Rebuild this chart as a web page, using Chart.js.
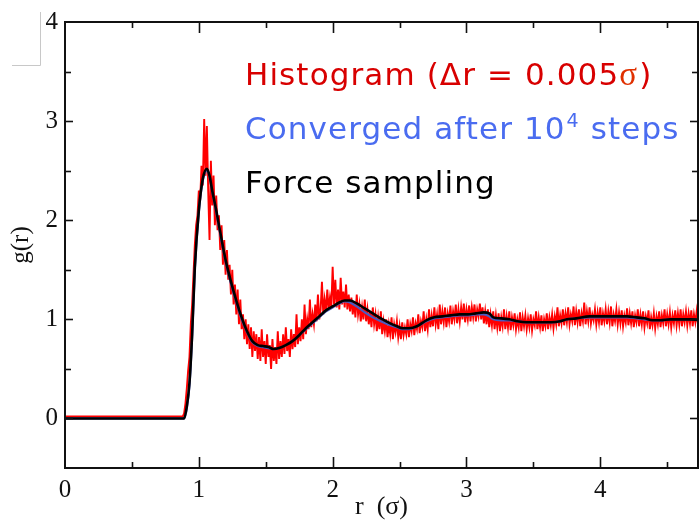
<!DOCTYPE html>
<html><head><meta charset="utf-8">
<script src="https://cdn.jsdelivr.net/npm/chart.js@4/dist/chart.umd.min.js"></script>
<style>html,body{margin:0;padding:0;background:#fff;}#wrap{position:relative;width:700px;height:523px;}</style>
</head><body><div id="wrap"><canvas id="c" width="700" height="523"></canvas></div>
<script>
// ---- data ----
const xTickLabels = ['0','1','2','3','4'];
const yTickLabels = ['0','1','2','3','4'];

// Histogram, bin width 0.01 starting at r = 0.88 (flat 0 before that)
const histLeadR = [0.0];
const histLeadG = [0.02];
const histBinStart = 0.88;
const histBinWidth = 0.01;
const histogramG = [
0.02,0.05,0.15,0.30,0.48,0.62,0.95,1.15,1.45,1.75,
1.95,2.05,2.30,2.20,2.55,2.35,3.02,2.45,2.95,2.30,
1.80,2.60,2.15,2.45,1.95,2.25,1.90,2.05,1.70,1.95,
1.55,1.80,1.45,1.70,1.40,1.55,1.25,1.50,1.15,1.35,
1.05,1.30,0.95,1.20,0.90,1.05,0.80,1.00,0.75,0.95,
0.70,0.92,0.62,0.88,0.68,0.85,0.60,0.82,0.58,0.90,
0.62,0.78,0.55,0.85,0.62,0.74,0.50,0.80,0.58,0.72,
0.55,0.88,0.60,0.78,0.62,0.85,0.65,0.92,0.68,0.80,
0.62,0.90,0.70,0.85,0.72,1.05,0.75,0.92,0.78,1.00,
0.80,1.15,0.85,1.00,0.90,1.20,0.92,1.05,0.95,1.15,
0.98,1.25,1.00,1.10,1.38,1.05,1.20,1.08,1.30,1.10,
1.22,1.12,1.53,1.15,1.40,1.12,1.30,1.10,1.42,1.15,
1.28,1.12,1.35,1.10,1.25,1.08,1.22,1.05,1.18,1.02,
1.25,1.05,1.15,0.98,1.12,1.00,1.20,0.98,1.10,0.95,
1.08,0.92,1.12,0.95,1.05,0.88,1.02,0.90,1.08,0.85,
0.98,0.88,1.00,0.82,0.95,0.85,1.02,0.80,0.95,0.87,
0.98,0.82,0.93,0.80,0.97,0.84,0.92,0.85,1.00,0.82,
0.95,0.88,1.02,0.84,0.96,0.90,1.05,0.86,0.98,0.92,
1.08,0.88,1.00,0.90,1.10,0.92,1.04,0.93,1.12,0.95,
1.05,0.90,1.15,0.95,1.08,0.97,1.12,0.92,1.06,0.98,
1.14,0.95,1.08,1.00,1.15,0.96,1.10,0.98,1.12,1.00,
1.16,0.97,1.10,1.00,1.14,0.98,1.12,1.02,1.15,0.98,
1.10,1.03,1.16,1.00,1.12,0.96,1.08,0.95,1.10,0.92,
1.05,0.94,1.08,0.90,1.04,0.92,1.06,0.88,1.02,0.93,
1.10,0.90,1.03,0.92,1.08,0.89,1.02,0.94,1.06,0.90,
1.00,0.92,1.07,0.88,1.02,0.93,1.04,0.90,1.01,0.92,
1.05,0.89,1.00,0.94,1.08,0.90,1.02,0.92,1.04,0.88,
1.00,0.93,1.06,0.90,1.02,0.94,1.05,0.91,1.03,0.95,
1.12,0.93,1.04,0.96,1.10,0.94,1.06,0.97,1.12,0.95,
1.05,0.98,1.13,0.94,1.08,0.97,1.10,0.93,1.06,0.98,
1.17,0.95,1.08,0.98,1.12,0.96,1.05,0.99,1.10,0.95,
1.07,0.97,1.12,0.94,1.06,0.98,1.10,0.95,1.08,0.97,
1.13,0.93,1.05,0.98,1.10,0.95,1.07,0.96,1.09,0.93,
1.04,0.97,1.11,0.94,1.06,0.96,1.08,0.92,1.04,0.97,
1.10,0.93,1.05,0.95,1.08,0.92,1.03,0.96,1.09,0.90,
1.02,0.94,1.06,0.91,1.03,0.95,1.08,0.92,1.04,0.96,
1.10,0.93,1.05,0.95,1.07,0.92,1.04,0.96,1.09,0.94,
1.06,0.95,1.10,0.93,1.05,0.97,1.08,0.94,1.06,0.96,
1.09,0.93,1.05,0.97,1.08,0.95
];

// Force sampling (black) and converged (blue) curves
const curveR = [0,0.89,0.91,0.93,0.95,0.97,1.0,1.03,1.06,1.08,
1.10,1.13,1.16,1.2,1.24,1.28,1.32,1.36,1.40,1.44,
1.48,1.52,1.56,1.60,1.65,1.70,1.75,1.80,1.85,1.90,
1.95,2.0,2.05,2.09,2.13,2.18,2.24,2.30,2.36,2.43,
2.48,2.52,2.57,2.63,2.70,2.76,2.82,2.88,2.95,3.01,
3.07,3.13,3.17,3.20,3.26,3.32,3.38,3.45,3.51,3.57,
3.63,3.70,3.75,3.82,3.92,4.02,4.12,4.20,4.27,4.33,
4.39,4.45,4.52,4.61,4.67,4.73];
const forceG = [0,0,0.12,0.36,0.85,1.52,2.1,2.42,2.52,2.45,
2.3,2.1,1.88,1.6,1.38,1.19,1.02,0.88,0.78,0.74,
0.73,0.72,0.70,0.71,0.74,0.78,0.84,0.91,0.97,1.03,
1.09,1.13,1.17,1.19,1.19,1.16,1.11,1.06,1.01,0.96,
0.93,0.91,0.91,0.93,0.99,1.02,1.03,1.04,1.05,1.05,
1.06,1.07,1.06,1.02,1.01,1.0,0.98,0.97,0.97,0.97,
0.97,0.98,1.0,1.01,1.03,1.03,1.03,1.03,1.02,1.01,
0.99,0.99,1.0,1.0,1.0,0.995];
const convergedG = [0,0,0.1,0.33,0.82,1.5,2.08,2.4,2.5,2.44,
2.29,2.08,1.86,1.58,1.36,1.17,1.0,0.87,0.77,0.73,
0.72,0.71,0.70,0.71,0.74,0.78,0.84,0.90,0.96,1.02,
1.08,1.12,1.16,1.18,1.17,1.13,1.07,1.02,0.98,0.94,
0.92,0.90,0.90,0.93,0.98,1.01,1.02,1.03,1.04,1.04,
1.05,1.05,1.03,1.0,0.99,0.99,0.98,0.97,0.97,0.97,
0.97,0.98,1.0,1.01,1.02,1.02,1.02,1.02,1.01,1.0,
0.99,0.99,1.0,1.0,1.0,0.995];

// ---- build datasets ----
const histData = histLeadR.map((r,i)=>({x:r,y:histLeadG[i]}))
  .concat(histogramG.map((g,i)=>({x:+(histBinStart+i*histBinWidth).toFixed(3),y:g})));
const forceData = curveR.map((r,i)=>({x:r,y:forceG[i]}));
const convData = curveR.map((r,i)=>({x:r,y:convergedG[i]}));

const framePlugin = {
  id:'frame',
  afterDatasetsDraw(chart){
    const {ctx, chartArea:a, scales:{x,y}} = chart;
    ctx.save();
    ctx.strokeStyle='#111';
    ctx.lineWidth=2;
    ctx.strokeRect(a.left, a.top, a.right-a.left, a.bottom-a.top);
    ctx.lineWidth=1.6;
    const ln=(x1,y1,x2,y2)=>{ctx.beginPath();ctx.moveTo(x1,y1);ctx.lineTo(x2,y2);ctx.stroke();};
    x.ticks.forEach(t=>{
      const px=Math.round(x.getPixelForValue(t.value))+0.5;
      if(px<=a.left+1||px>=a.right-1) return;
      const L=Number.isInteger(t.value)?11:6;
      ln(px,a.bottom,px,a.bottom-L); ln(px,a.top,px,a.top+L);
    });
    y.ticks.forEach(t=>{
      const py=Math.round(y.getPixelForValue(t.value))+0.5;
      if(py>=a.bottom-1||py<=a.top+1) return;
      const L=Number.isInteger(t.value)?8:6;
      ln(a.left,py,a.left+L,py); ln(a.right,py,a.right-L,py);
    });
    ctx.restore();
  }
};

const notePlugin = {
  id:'notes',
  afterDraw(chart){
    const ctx=chart.ctx;
    ctx.save();
    // faint corner marks at top-left
    ctx.strokeStyle='#c8c8c8'; ctx.lineWidth=1;
    ctx.beginPath(); ctx.moveTo(40.5,12); ctx.lineTo(40.5,65.5); ctx.lineTo(12,65.5); ctx.stroke();
    const sans='"DejaVu Sans", Verdana, sans-serif';
    ctx.textBaseline='alphabetic'; ctx.textAlign='left';
    ctx.letterSpacing='1.1px';
    // line 1
    let x=245;
    ctx.font='31px '+sans; ctx.fillStyle='#d80000';
    let s='Histogram (\u0394r = 0.005';
    ctx.fillText(s,x,85); x+=ctx.measureText(s).width;
    ctx.font='33px "Liberation Serif", serif'; ctx.fillStyle='#e03000';
    ctx.fillText('\u03c3',x,85); x+=ctx.measureText('\u03c3').width;
    ctx.font='31px '+sans; ctx.fillStyle='#d80000';
    ctx.fillText(')',x+1,85);
    // line 2
    x=245; ctx.fillStyle='#4a6cf0';
    s='Converged after 10';
    ctx.fillText(s,x,139); x+=ctx.measureText(s).width+1;
    ctx.font='19px '+sans; ctx.fillText('4',x,127); x+=ctx.measureText('4').width;
    ctx.font='31px '+sans; ctx.fillText(' steps',x,139);
    // line 3
    ctx.fillStyle='#000';
    ctx.fillText('Force sampling',245,193);
    ctx.restore();
  }
};

const serif='"Liberation Serif", "Times New Roman", serif';
new Chart(document.getElementById('c'),{
  type:'line',
  data:{datasets:[
    {label:'Force sampling',data:forceData,borderColor:'#000',borderWidth:2.6,pointRadius:0,cubicInterpolationMode:'monotone',fill:false},
    {label:'Converged after 10^4 steps',data:convData,borderColor:'#4a5cc0',borderWidth:2.2,pointRadius:0,cubicInterpolationMode:'monotone',fill:false},
    {label:'Histogram',data:histData,borderColor:'#ff0000',borderWidth:1.9,pointRadius:0,tension:0,fill:false}
  ]},
  options:{
    responsive:false, animation:false, events:[],
    layout:{padding:{top:19,right:2,left:0,bottom:0}},
    plugins:{legend:{display:false},tooltip:{enabled:false}},
    scales:{
      x:{type:'linear',min:0,max:4.73,
        grid:{display:false,drawTicks:false},border:{display:false},
        ticks:{stepSize:0.5,includeBounds:false,autoSkip:false,maxRotation:0,padding:7,color:'#111',
          font:{family:serif,size:25},
          callback:(v)=>Number.isInteger(v)?xTickLabels[v]:''},
        title:{display:true,text:'r  (\u03c3)',color:'#111',font:{family:serif,size:26},padding:{top:0,bottom:0}},
        afterFit:(s)=>{s.height=55;}
      },
      y:{type:'linear',min:-0.5,max:4,
        grid:{display:false,drawTicks:false},border:{display:false},
        ticks:{stepSize:0.5,includeBounds:false,autoSkip:false,padding:7,color:'#111',
          font:{family:serif,size:25},
          callback:(v)=>Number.isInteger(v)?yTickLabels[v]:''},
        title:{display:true,text:'g(r)',color:'#111',font:{family:serif,size:25},padding:{top:6,bottom:0}},
        afterFit:(s)=>{s.width=65;}
      }
    }
  },
  plugins:[framePlugin,notePlugin]
});
</script></body></html>
